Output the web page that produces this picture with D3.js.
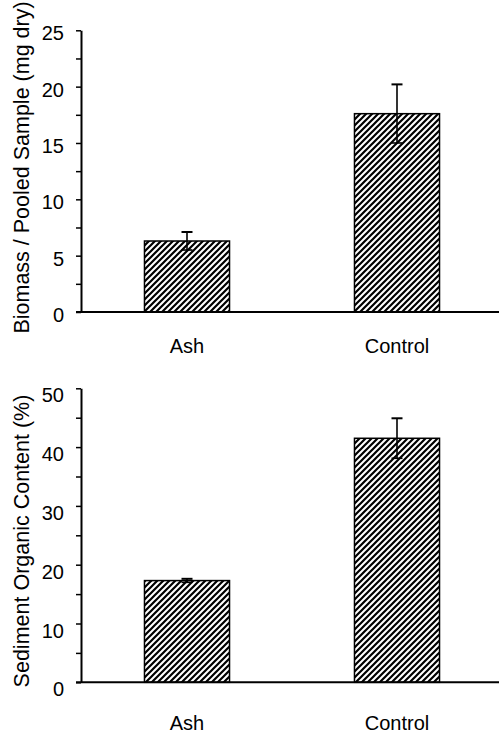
<!DOCTYPE html>
<html>
<head>
<meta charset="utf-8">
<script src="https://cdn.jsdelivr.net/npm/d3@7"></script>
<style>
  html, body { margin: 0; padding: 0; background: #fff; }
  svg { display: block; }
  text { font-family: "Liberation Sans", Arial, sans-serif; fill: #000; }
</style>
</head>
<body>
<svg id="chart" width="499" height="733"></svg>
<script>
// ---- Data ----
const categories = ["Ash", "Control"];
const biomassValues = [6.3, 17.6];
const biomassErrors = [0.8, 2.6];
const organicValues = [17.3, 41.5];
const organicErrors = [0.3, 3.4];
const biomassTicks = [0, 2.5, 5, 7.5, 10, 12.5, 15, 17.5, 20, 22.5, 25];
const organicTicks = [0, 5, 10, 15, 20, 25, 30, 35, 40, 45, 50];
const biomassTitle = "Biomass / Pooled Sample (mg dry)";
const organicTitle = "Sediment Organic Content (%)";

const svg = d3.select("#chart");

// hatch pattern
const defs = svg.append("defs");
const pat = defs.append("pattern")
  .attr("id", "hatch")
  .attr("patternUnits", "userSpaceOnUse")
  .attr("width", 6).attr("height", 6);
pat.append("rect").attr("width", 6).attr("height", 6).attr("fill", "#fff");
pat.append("path")
  .attr("d", "M-1,1 l2,-2 M0,6 l6,-6 M5,7 l2,-2")
  .attr("stroke", "#000").attr("stroke-width", 2.2).attr("shape-rendering", "auto");

const x = d3.scaleBand()
  .domain(categories)
  .range([82, 502])
  .paddingInner(0.595)
  .paddingOuter(0.2975);

function panel(cfg) {
  const y = d3.scaleLinear().domain([0, cfg.max]).range([cfg.y0, cfg.y1]);
  const g = svg.append("g");

  // bars
  g.selectAll("rect.bar")
    .data(categories)
    .join("rect")
    .attr("class", "bar")
    .attr("x", d => x(d))
    .attr("width", x.bandwidth())
    .attr("y", (d, i) => y(cfg.values[i]))
    .attr("height", (d, i) => y(0) - y(cfg.values[i]))
    .attr("fill", "url(#hatch)")
    .attr("stroke", "#000")
    .attr("stroke-width", 1.5);

  // error bars
  const eb = g.selectAll("g.err")
    .data(categories)
    .join("g")
    .attr("class", "err")
    .attr("transform", d => `translate(${x(d) + x.bandwidth() / 2},0)`);
  eb.append("line")
    .attr("y1", (d, i) => y(cfg.values[i] + cfg.errors[i]))
    .attr("y2", (d, i) => y(cfg.values[i] - cfg.errors[i]))
    .attr("stroke", "#000").attr("stroke-width", 1.6);
  eb.append("line")
    .attr("x1", -5.5).attr("x2", 5.5)
    .attr("y1", (d, i) => y(cfg.values[i] + cfg.errors[i]))
    .attr("y2", (d, i) => y(cfg.values[i] + cfg.errors[i]))
    .attr("stroke", "#000").attr("stroke-width", 2);
  eb.append("line")
    .attr("x1", -5.5).attr("x2", 5.5)
    .attr("y1", (d, i) => y(cfg.values[i] - cfg.errors[i]))
    .attr("y2", (d, i) => y(cfg.values[i] - cfg.errors[i]))
    .attr("stroke", "#000").attr("stroke-width", 1.6);

  // y axis
  const ya = g.append("g")
    .attr("transform", "translate(81,0)")
    .call(d3.axisLeft(y)
      .tickValues(cfg.ticks)
      .tickSize(5)
      .tickSizeOuter(0)
      .tickPadding(12)
      .tickFormat(d => (d % cfg.labelStep === 0 ? d : "")));
  ya.select(".domain").attr("stroke", "#000").attr("stroke-width", 2);
  ya.selectAll(".tick line").attr("stroke", "#000").attr("stroke-width", 1.5);
  ya.selectAll(".tick text")
    .attr("font-size", 20)
    .attr("dy", cfg.labelDy)
    .style("font-family", '"Liberation Sans", Arial, sans-serif');

  // x baseline
  g.append("line")
    .attr("x1", 76).attr("x2", 499)
    .attr("y1", y(0)).attr("y2", y(0))
    .attr("stroke", "#000").attr("stroke-width", 2);

  // x labels
  const xa = g.append("g")
    .attr("transform", `translate(0,${y(0)})`)
    .call(d3.axisBottom(x).tickSize(0).tickPadding(cfg.xPad));
  xa.select(".domain").remove();
  xa.selectAll(".tick text")
    .attr("font-size", 20)
    .style("font-family", '"Liberation Sans", Arial, sans-serif');

  // y title
  g.append("text")
    .attr("transform", `translate(${cfg.titleX},${cfg.titleY}) rotate(-90)`)
    .attr("text-anchor", "middle")
    .attr("font-size", 21.5)
    .text(cfg.title);
}

panel({
  values: biomassValues, errors: biomassErrors, ticks: biomassTicks,
  max: 25, y0: 312, y1: 30.3, labelStep: 5, labelDy: "0.47em",
  xPad: 27, title: biomassTitle, titleX: 29, titleY: 167.5
});
panel({
  values: organicValues, errors: organicErrors, ticks: organicTicks,
  max: 50, y0: 682.3, y1: 388.3, labelStep: 10, labelDy: "0.68em",
  xPad: 34, title: organicTitle, titleX: 28.5, titleY: 541
});
</script>
</body>
</html>
